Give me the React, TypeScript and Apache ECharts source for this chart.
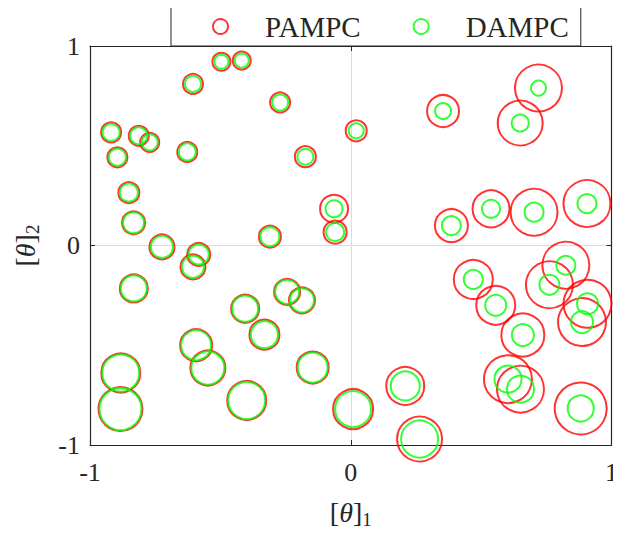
import React, { useEffect, useRef } from "react";
import * as echarts from "echarts";

const theta1 = [
  -0.496, -0.418, -0.605, -0.271, -0.919, -0.813, -0.771, -0.895, -0.627, -0.174,
  -0.851, -0.833, -0.064, -0.06, -0.31, -0.724, -0.583, -0.605, 0.021, -0.832,
  -0.405, -0.244, -0.187, -0.331, -0.593, -0.548, -0.146, -0.882, -0.883, -0.399,
  0.009, 0.209, 0.264, 0.47, 0.556, 0.66, 0.825, 0.762, 0.908, 0.887,
  0.603, 0.651, 0.882, 0.354, 0.72, 0.65, 0.386, 0.538, 0.703, 0.906,
];
const theta2 = [
  0.921, 0.927, 0.81, 0.717, 0.567, 0.55, 0.517, 0.442, 0.469, 0.445,
  0.265, 0.114, 0.184, 0.067, 0.044, -0.007, -0.045, -0.107, 0.575, -0.215,
  -0.317, -0.232, -0.275, -0.447, -0.5, -0.614, -0.612, -0.639, -0.82, -0.777,
  -0.82, -0.704, -0.97, -0.17, -0.3, -0.449, -0.099, -0.197, -0.292, -0.384,
  -0.67, -0.72, -0.817, 0.674, 0.789, 0.614, 0.1, 0.184, 0.167, 0.21,
];
// marker diameters (px)
const pampcSize = [
  20, 20, 22, 22, 22, 22, 21, 22, 22, 23,
  23, 25, 30, 25, 24, 27, 25, 27, 23, 30,
  30, 28, 28, 32, 34, 37, 34, 41, 46, 41,
  42, 40, 47, 41, 41, 45, 49, 49, 50, 50,
  50, 49, 54, 34, 49, 47, 35, 39, 49, 49,
];
const dampcSize = [
  16, 16, 18, 18, 19, 19, 18, 19, 19, 18,
  20, 23, 19, 20, 21, 24, 22, 24, 17, 28,
  28, 26, 26, 29, 32, 35, 32, 39, 44, 39,
  38, 31, 39, 21, 23, 24, 21, 22, 23, 24,
  29, 29, 28, 18, 17, 19, 21, 20, 21, 21,
];
const xTicks = ["-1", "0", "1"];
const yTicks = ["-1", "0", "1"];
const seriesNames = ["PAMPC", "DAMPC"];

const RED = "#ff0000";
const GREEN = "#00ff00";
const INK = "#262626";
const FONT = "Liberation Serif";

export default function App() {
  const ref = useRef<HTMLDivElement>(null);
  useEffect(() => {
    if (!ref.current) return;
    const chart = echarts.init(ref.current, undefined, { renderer: "svg" });
    const redData = theta1.map((x, i) => [x, theta2[i], pampcSize[i]]);
    const greenData = theta1.map((x, i) => [x, theta2[i], dampcSize[i]]);
    const tickFmt = (arr: string[]) => (v: number) => {
      const idx = Math.round(v + 1);
      return arr[idx] ?? "";
    };
    const nameRich = (sub: string) => `{a|[}{t|θ}{a|]}{s|${sub}}`;
    const rich = {
      a: { fontFamily: FONT, fontSize: 28, lineHeight: 34, color: INK },
      t: { fontFamily: FONT, fontSize: 28, lineHeight: 34, fontStyle: "italic", color: INK },
      s: { fontFamily: FONT, fontSize: 19, lineHeight: 19, verticalAlign: "bottom", color: INK },
    };
    const baseAxis = {
      type: "value",
      min: -1,
      max: 1,
      interval: 1,
      axisLine: { show: true, onZero: false, lineStyle: { color: INK, width: 1.2 } },
      axisTick: { show: true, inside: true, length: 5, lineStyle: { color: INK } },
      splitLine: { show: true, lineStyle: { color: "#dcdcdc", width: 1 } },
    };
    chart.setOption({
      animation: false,
      backgroundColor: "#ffffff",
      grid: { left: 90, right: 4, top: 46, bottom: 88, containLabel: false },
      legend: {
        data: [
          { name: seriesNames[0], itemStyle: { color: "transparent", borderColor: RED, borderWidth: 2 } },
          { name: seriesNames[1], itemStyle: { color: "transparent", borderColor: GREEN, borderWidth: 2 } },
        ],
        icon: "circle",
        left: 171,
        top: 7,
        itemWidth: 15,
        itemHeight: 15,
        itemGap: 52,
        padding: [5, 12, 5, 41],
        borderColor: INK,
        borderWidth: 1,
        backgroundColor: "#ffffff",
        textStyle: { fontFamily: FONT, fontSize: 29, color: INK, padding: [0, 0, 0, 32] },
        z: 10,
      },
      xAxis: [
        {
          ...baseAxis,
          position: "bottom",
          axisLabel: { formatter: tickFmt(xTicks), fontFamily: FONT, fontSize: 26, color: INK, margin: 14 },
          name: nameRich("1"),
          nameLocation: "middle",
          nameGap: 50,
          nameTextStyle: { rich },
        },
        {
          ...baseAxis,
          position: "top",
          axisLabel: { show: false },
          splitLine: { show: false },
        },
      ],
      yAxis: [
        {
          ...baseAxis,
          position: "left",
          axisLabel: { formatter: tickFmt(yTicks), fontFamily: FONT, fontSize: 26, color: INK, margin: 10 },
          name: nameRich("2"),
          nameLocation: "middle",
          nameRotate: 90,
          nameGap: 48,
          nameTextStyle: { rich },
        },
        {
          ...baseAxis,
          position: "right",
          axisLabel: { show: false },
          splitLine: { show: false },
        },
      ],
      series: [
        {
          name: seriesNames[0],
          type: "scatter",
          data: redData,
          symbol: "circle",
          symbolSize: (v: number[]) => v[2] - 2,
          clip: false,
          itemStyle: { color: "transparent", borderColor: RED, borderWidth: 2 },
          emphasis: { disabled: true },
          z: 2,
        },
        {
          name: seriesNames[1],
          type: "scatter",
          data: greenData,
          symbol: "circle",
          symbolSize: (v: number[]) => v[2] - 2,
          clip: false,
          itemStyle: { color: "transparent", borderColor: GREEN, borderWidth: 2 },
          emphasis: { disabled: true },
          z: 3,
        },
      ],
    });
    return () => chart.dispose();
  }, []);
  return <div ref={ref} style={{ width: 621, height: 534, margin: -8 }} />;
}
